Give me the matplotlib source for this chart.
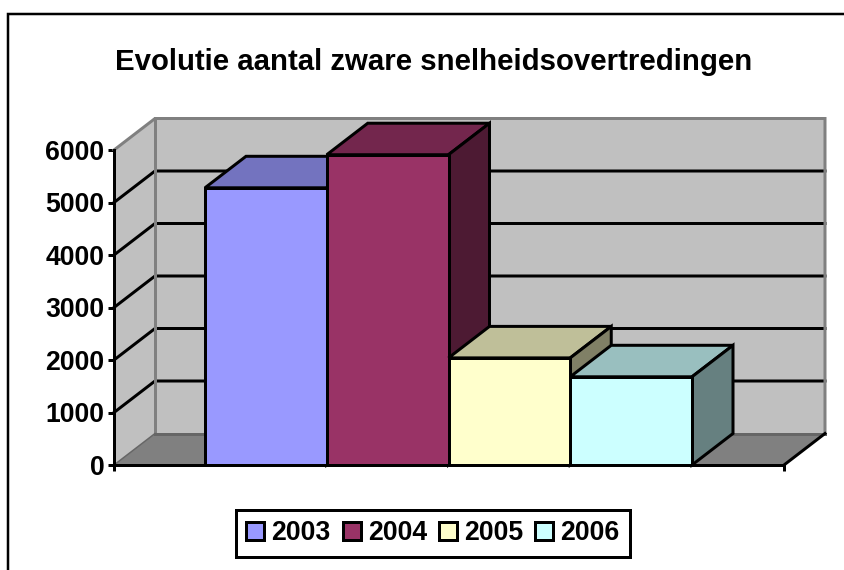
import matplotlib
matplotlib.use("Agg")
import matplotlib.pyplot as plt
from matplotlib.patches import Polygon, Patch
from matplotlib.lines import Line2D
from matplotlib.colors import to_rgb

years = ["2003", "2004", "2005", "2006"]
values = [5280, 5910, 2040, 1680]
colors = ["#9999FF", "#993366", "#FFFFCC", "#CCFFFF"]
y_ticks = [0, 1000, 2000, 3000, 4000, 5000, 6000]

W, H = 844, 570
plt.rcParams["font.family"] = ["Liberation Sans", "DejaVu Sans"]
fig = plt.figure(figsize=(W / 100, H / 100), dpi=100)
ax = fig.add_axes([114 / W, 1 - 465 / H, (784 - 114) / W, (465 - 150) / H])

bar_w_px = 121.75
xmin = -0.5 - (205 - 114) / bar_w_px
xmax = -0.5 + (784 - 205) / bar_w_px
ymax = 6000
ax.set_xlim(xmin, xmax)
ax.set_ylim(0, ymax)

# depth offsets expressed in data units
dx = 41 / bar_w_px
dy = 31.5 / (315 / ymax)
px = 1 / 1.3889  # pt per px at dpi 100
lw_blk = 3.0 * px
lw_gry = 3.0 * px
GRY = "#808080"
WALL = "#C0C0C0"
FS = 19.2


def poly(pts, fc, ec="none", lw=0, z=1):
    ax.add_patch(Polygon(pts, closed=True, fc=fc, ec=ec, lw=lw, zorder=z,
                         clip_on=False, joinstyle="miter"))


def shade(c, f):
    return tuple(v * f for v in to_rgb(c))


# walls and floor
poly([(xmin + dx, dy), (xmax + dx, dy), (xmax + dx, ymax + dy), (xmin + dx, ymax + dy)], WALL, z=1)
poly([(xmin, 0), (xmin + dx, dy), (xmin + dx, ymax + dy), (xmin, ymax)], WALL, z=1)
poly([(xmin, 0), (xmax, 0), (xmax + dx, dy), (xmin + dx, dy)], GRY, z=1)

# gridlines on the walls
for t in y_ticks[1:-1]:
    ax.plot([xmin, xmin + dx, xmax + dx], [t, t + dy, t + dy], color="black",
            lw=lw_blk, zorder=2, clip_on=False, solid_joinstyle="miter")

# wall frame
ax.plot([xmin, xmin + dx, xmax + dx, xmax + dx], [ymax, ymax + dy, ymax + dy, dy],
        color=GRY, lw=lw_gry, zorder=2, clip_on=False, solid_joinstyle="miter")
ax.plot([xmin + dx, xmin + dx], [dy, ymax + dy], color=GRY, lw=lw_gry, zorder=2, clip_on=False)
ax.plot([xmin + dx, xmax + dx], [dy, dy], color="#666666", lw=lw_gry, zorder=2, clip_on=False)
ax.plot([xmin, xmin + dx], [0, dy], color="#666666", lw=1.5 * px, zorder=2, clip_on=False)
ax.plot([xmax, xmax + dx], [0, dy], color="black", lw=lw_blk, zorder=2, clip_on=False)

# bars, left to right so that later ones cover earlier sides
for i, (v, c) in enumerate(zip(values, colors)):
    z = 3 + i
    l, r = i - 0.5, i + 0.5
    poly([(l, v), (r, v), (r + dx, v + dy), (l + dx, v + dy)], shade(c, 0.75),
         "black", lw_blk, z)
    poly([(r, 0), (r + dx, dy), (r + dx, v + dy), (r, v)], shade(c, 0.5),
         "black", lw_blk, z)
    ax.bar(i, v, width=1.0, color=c, edgecolor="black", linewidth=lw_blk, zorder=z + 0.5,
           clip_on=False)

# axes
for s in ("top", "right"):
    ax.spines[s].set_visible(False)
for s in ("left", "bottom"):
    ax.spines[s].set_linewidth(lw_blk)
    ax.spines[s].set_zorder(20)
ax.patch.set_visible(False)
ax.set_yticks(y_ticks)
ax.set_yticklabels([str(t) for t in y_ticks], fontsize=FS, fontweight="bold")
ax.tick_params(axis="y", length=6 * px, width=lw_blk, pad=2.5)
ax.set_xticks([xmin, xmax])
ax.set_xticklabels(["", ""])
ax.tick_params(axis="x", length=6 * px, width=lw_blk)

# title
fig.text(433.5 / W, 1 - 61.5 / H, "Evolutie aantal zware snelheidsovertredingen",
         ha="center", va="center", fontsize=21.2, fontweight="bold")

# chart border
fig.add_artist(Line2D([7.5 / W, 7.5 / W, 1], [0, 1 - 13.5 / H, 1 - 13.5 / H],
                      color="black", lw=2.5 * px, solid_joinstyle="miter"))

# legend
handles = [Patch(fc=c, ec="black", lw=lw_blk, label=y) for y, c in zip(years, colors)]
leg = fig.legend(handles=handles, ncols=4, loc="center",
                 bbox_to_anchor=(433 / W, 1 - 533.5 / H),
                 prop={"weight": "bold", "size": FS},
                 frameon=True, fancybox=False, framealpha=1, edgecolor="black",
                 handlelength=0.67, handleheight=0.67, handletextpad=0.27,
                 columnspacing=0.45, borderpad=0.4, borderaxespad=0)
leg.get_frame().set_linewidth(lw_blk)

fig.savefig("out.png", dpi=100, facecolor="white")
